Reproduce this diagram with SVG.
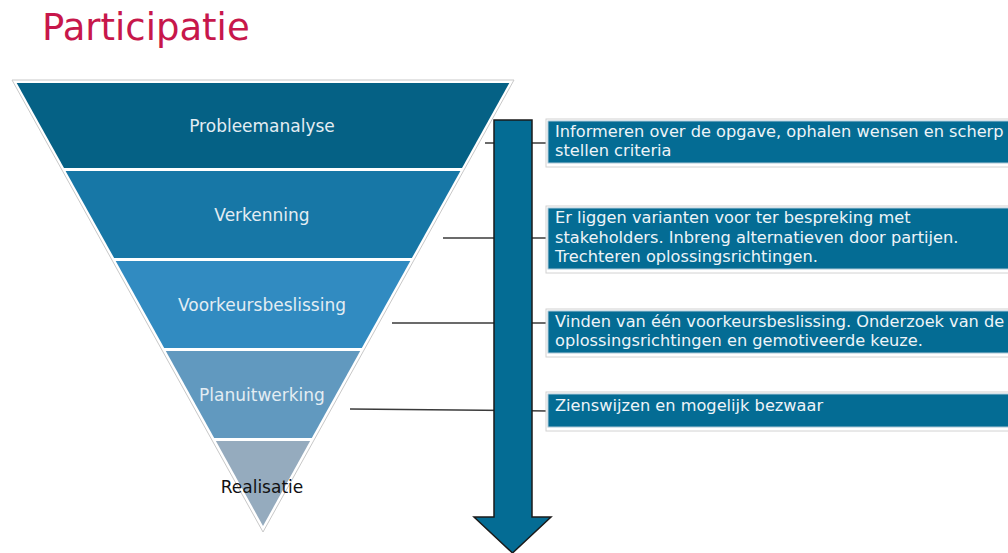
<svg xmlns="http://www.w3.org/2000/svg" width="1008" height="553" viewBox="0 0 1008 553">
<style>
.band-label{font-family:"DejaVu Sans","Verdana",sans-serif;font-size:17px;fill:#e3edf3;text-anchor:middle}
.box-text{font-family:"DejaVu Sans","Verdana",sans-serif;font-size:16.2px;fill:#eef4f8}
.box-outer{fill:#ffffff;stroke:#d2d2d2;stroke-width:1}
.box-inner{fill:#046c94;stroke:#aac6d6;stroke-width:1}
.conn{stroke:#3a3a3a;stroke-width:1.5;fill:none}
</style>
<rect width="1008" height="553" fill="#ffffff"/>
<text x="42" y="40" font-family="DejaVu Sans, Verdana, sans-serif" font-size="37" fill="#c7174b">Participatie</text>

<g id="funnel">
<polygon points="12,80 514,80 263,532" fill="#ffffff" stroke="#c8c8c8" stroke-width="1"/>
</g>
<g id="probleemanalyse">
<polygon points="16.7,83 509.3,83 462,168 64,168" fill="#056185"/>
<text class="band-label" x="262" y="132">Probleemanalyse</text>
</g>
<g id="verkenning">
<polygon points="65.6,171 460.4,171 411.9,258 114.1,258" fill="#1777a6"/>
<text class="band-label" x="262" y="221">Verkenning</text>
</g>
<g id="voorkeursbeslissing">
<polygon points="115.7,261 410.3,261 361.8,348 164.2,348" fill="#318bc1"/>
<text class="band-label" x="262" y="311">Voorkeursbeslissing</text>
</g>
<g id="planuitwerking">
<polygon points="165.8,351 360.2,351 311.8,438 214.2,438" fill="#6199bf"/>
<text class="band-label" x="262" y="401">Planuitwerking</text>
</g>
<g id="realisatie">
<polygon points="215.9,441 310.1,441 263,526" fill="#95abbe"/>
<text class="band-label" x="262" y="493" style="fill:#111111">Realisatie</text>
</g>

<g id="connectors">
<line class="conn" x1="485" y1="143" x2="548" y2="143"/>
<line class="conn" x1="443" y1="238" x2="548" y2="238"/>
<line class="conn" x1="392" y1="323" x2="548" y2="323"/>
<line class="conn" x1="350" y1="409" x2="548" y2="411"/>
</g>

<g id="arrow">
<polygon points="494,120 532,120 532,517 551,517 512.5,553 474,517 494,517" fill="#046c94" stroke="#1a1a1a" stroke-width="1.5"/>
</g>

<g id="box1">
<rect class="box-outer" x="546" y="119" width="470" height="48"/>
<rect class="box-inner" x="548" y="121" width="470" height="42"/>
<text class="box-text" x="555" y="137">Informeren over de opgave, ophalen wensen en scherp</text>
<text class="box-text" x="555" y="156">stellen criteria</text>
</g>
<g id="box2">
<rect class="box-outer" x="546" y="206" width="470" height="67"/>
<rect class="box-inner" x="548" y="208" width="470" height="61"/>
<text class="box-text" x="555" y="223">Er liggen varianten voor ter bespreking met</text>
<text class="box-text" x="555" y="243">stakeholders. Inbreng alternatieven door partijen.</text>
<text class="box-text" x="555" y="262">Trechteren oplossingsrichtingen.</text>
</g>
<g id="box3">
<rect class="box-outer" x="546" y="309" width="470" height="48"/>
<rect class="box-inner" x="548" y="311" width="470" height="42"/>
<text class="box-text" x="555" y="327">Vinden van één voorkeursbeslissing. Onderzoek van de</text>
<text class="box-text" x="555" y="346">oplossingsrichtingen en gemotiveerde keuze.</text>
</g>
<g id="box4">
<rect class="box-outer" x="546" y="392" width="470" height="39"/>
<rect class="box-inner" x="548" y="394" width="470" height="33"/>
<text class="box-text" x="555" y="411">Zienswijzen en mogelijk bezwaar</text>
</g>
</svg>
